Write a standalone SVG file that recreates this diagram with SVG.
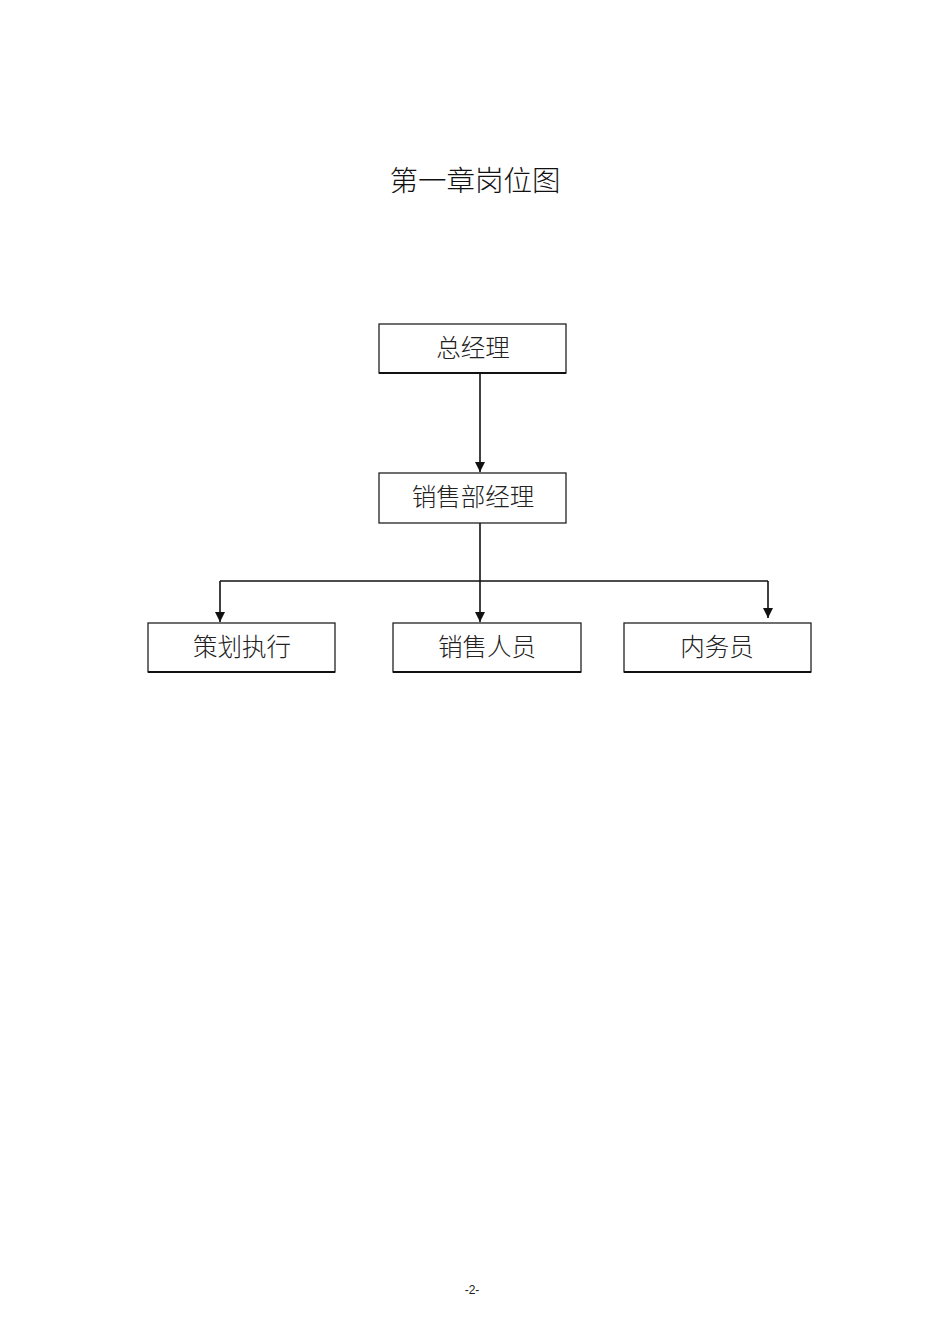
<svg xmlns="http://www.w3.org/2000/svg" width="950" height="1344" viewBox="0 0 950 1344">
<style>
.box{fill:#fff;stroke:#222;stroke-width:1.3}
.base{stroke:#111;stroke-width:2}
.t{font-family:"Noto Sans CJK SC","Noto Sans CJK JP",sans-serif;font-size:24.5px;font-weight:300;fill:#222;text-anchor:middle}
.c{fill:none;stroke:#111;stroke-width:1.6}
</style>
<defs>
<marker id="ah" viewBox="0 0 10 10" refX="10" refY="5" markerWidth="10" markerHeight="10" markerUnits="userSpaceOnUse" orient="auto">
<path d="M0,0 L10,5 L0,10 Z" fill="#111"/>
</marker>
</defs>
<rect width="950" height="1344" fill="#fff"/>
<text x="475" y="191" font-family="'Noto Sans CJK SC',sans-serif" font-size="28.5" font-weight="300" fill="#111" text-anchor="middle">第一章岗位图</text>
<g id="connectors">
<line class="c" x1="480" y1="373" x2="480" y2="472" marker-end="url(#ah)"/>
<line class="c" x1="480" y1="523" x2="480" y2="622" marker-end="url(#ah)"/>
<line class="c" x1="220" y1="581" x2="768" y2="581"/>
<line class="c" x1="220" y1="581" x2="220" y2="622" marker-end="url(#ah)"/>
<line class="c" x1="768" y1="581" x2="768" y2="618" marker-end="url(#ah)"/>
</g>
<g id="n1">
<rect class="box" x="379" y="324" width="187" height="49"/>
<line class="base" x1="379" y1="373" x2="566" y2="373"/>
<text class="t" x="473" y="357">总经理</text>
</g>
<g id="n2">
<rect class="box" x="379" y="473" width="187" height="50"/>
<text class="t" x="473" y="506">销售部经理</text>
</g>
<g id="n3">
<rect class="box" x="148" y="623" width="187" height="49"/>
<line class="base" x1="148" y1="672" x2="335" y2="672"/>
<text class="t" x="242" y="656">策划执行</text>
</g>
<g id="n4">
<rect class="box" x="393" y="623" width="188" height="49"/>
<line class="base" x1="393" y1="672" x2="581" y2="672"/>
<text class="t" x="487" y="656">销售人员</text>
</g>
<g id="n5">
<rect class="box" x="624" y="623" width="187" height="49"/>
<line class="base" x1="624" y1="672" x2="811" y2="672"/>
<text class="t" x="717" y="656">内务员</text>
</g>
<text x="472" y="1294" font-family="'Liberation Sans',sans-serif" font-size="12" fill="#222" text-anchor="middle">-2-</text>
</svg>
